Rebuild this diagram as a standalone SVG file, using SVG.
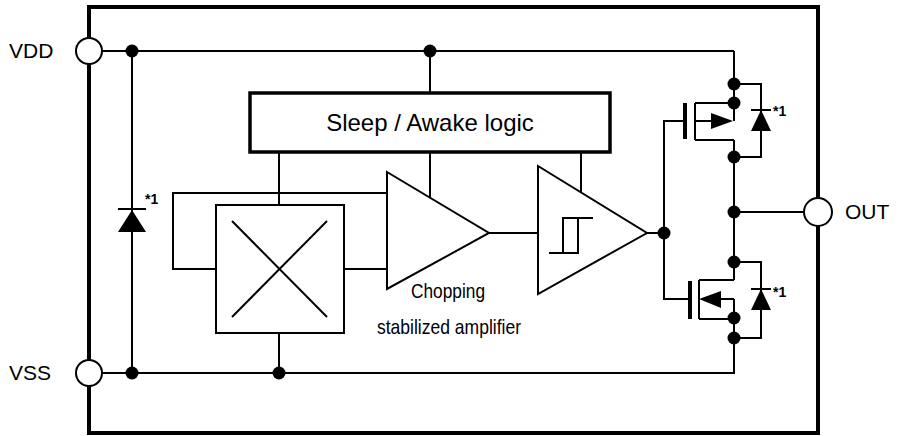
<svg xmlns="http://www.w3.org/2000/svg" width="901" height="436" viewBox="0 0 901 436">
<style>
.w{fill:none;stroke:#000;stroke-width:2}
.b{fill:#fff;stroke:#000;stroke-width:2}
.dot{fill:#000}
.term{fill:#fff;stroke:#000;stroke-width:2}
.lbl{font-family:"Liberation Sans",Arial,sans-serif;font-size:21px;fill:#000}
.note{font-family:"Liberation Sans",Arial,sans-serif;font-size:14px;font-weight:bold;fill:#000}
.cap{font-family:"Liberation Sans Narrow","Liberation Sans",Arial,sans-serif;font-size:21px;fill:#000}
</style>
<rect x="0" y="0" width="901" height="436" fill="#fff"/>
<g id="frame"><rect x="89" y="7" width="729" height="426" fill="none" stroke="#000" stroke-width="4"/></g>
<g id="connectors">
<path class="w" d="M89,51 H734 M430,51 V93 M132,51 V373 M89,373 H734 V338"/>
<path class="w" d="M279,152 V205 M279,333 V373"/>
<path class="w" d="M387,193 H173 V269 H216 M344,269 H387"/>
<path class="w" d="M430,152 V197 M581,152 V192"/>
<path class="w" d="M489,233 H538 M647,233 H664"/>
<path class="w" d="M664,233 V121 H685 M664,233 V299 H690"/>
<path class="w" d="M734,51 V121 M734,140 V280 M734,212 H818"/>
<path class="w" d="M734,84 H761 V157 H734 M734,262 H761 V338 H734"/>
<path class="w" d="M734,299 V338"/>
</g>
<g id="VDD"><circle class="term" cx="89" cy="51" r="13"/><text class="lbl" x="9" y="58">VDD</text></g>
<g id="VSS"><circle class="term" cx="89" cy="373" r="13"/><text class="lbl" x="9" y="380">VSS</text></g>
<g id="OUT"><circle class="term" cx="818" cy="212" r="14"/><text class="lbl" x="845" y="219">OUT</text></g>
<g id="sleep_logic"><rect x="250" y="93" width="360" height="59" fill="#fff" stroke="#000" stroke-width="3.5"/><text x="430" y="131" text-anchor="middle" font-family="Liberation Sans,Arial,sans-serif" font-size="24">Sleep / Awake logic</text></g>
<g id="chopper"><rect class="b" x="216" y="205" width="128" height="128"/><path class="w" d="M232,221 L327,317 M327,221 L232,317"/></g>
<g id="amplifier"><polygon class="b" points="387,172 489,233 387,289"/>
<text class="cap" x="448" y="298" text-anchor="middle" textLength="74" lengthAdjust="spacingAndGlyphs">Chopping</text>
<text class="cap" x="449" y="334" text-anchor="middle" textLength="144" lengthAdjust="spacingAndGlyphs">stabilized amplifier</text></g>
<g id="comparator"><polygon class="b" points="538,166 647,233 538,294"/><path class="w" d="M549,253 H578 V218 M563,253 V218 H593"/></g>
<g id="diode_left"><path class="w" d="M118,209 H146" stroke-width="3"/><polygon points="132,210 118,232 146,232" fill="#000"/><text class="note" x="145" y="204">*1</text></g>
<g id="pmos">
<rect x="683" y="103" width="4" height="36" fill="#000"/>
<path class="w" d="M695,103 V140 M695,103 H734 M695,140 H734 M695,121 H712"/>
<polygon points="711,113 733,121 711,129" fill="#000"/>
</g>
<g id="diode_p"><path class="w" d="M751,110 H771" stroke-width="3"/><polygon points="761,110 751,131 771,131" fill="#000"/><text class="note" x="773" y="116">*1</text></g>
<g id="nmos">
<rect x="688" y="281" width="4" height="38" fill="#000"/>
<path class="w" d="M699,280 V319 M699,280 H734 M699,319 H734 M720,299 H734"/>
<polygon points="699,299 721,291 721,308" fill="#000"/>
</g>
<g id="diode_n"><path class="w" d="M751,289 H771" stroke-width="3"/><polygon points="761,289 751,310 771,310" fill="#000"/><text class="note" x="773" y="297">*1</text></g>
<g id="junctions">
<circle class="dot" cx="132" cy="51" r="6.5"/>
<circle class="dot" cx="430" cy="51" r="6.5"/>
<circle class="dot" cx="132" cy="373" r="6.5"/>
<circle class="dot" cx="279" cy="373" r="6.5"/>
<circle class="dot" cx="664" cy="233" r="6.5"/>
<circle class="dot" cx="734" cy="84" r="6.5"/>
<circle class="dot" cx="734" cy="103" r="6.5"/>
<circle class="dot" cx="734" cy="157" r="6.5"/>
<circle class="dot" cx="734" cy="212" r="6.5"/>
<circle class="dot" cx="734" cy="262" r="6.5"/>
<circle class="dot" cx="734" cy="318" r="6.5"/>
<circle class="dot" cx="734" cy="338" r="6.5"/>
</g>
</svg>
